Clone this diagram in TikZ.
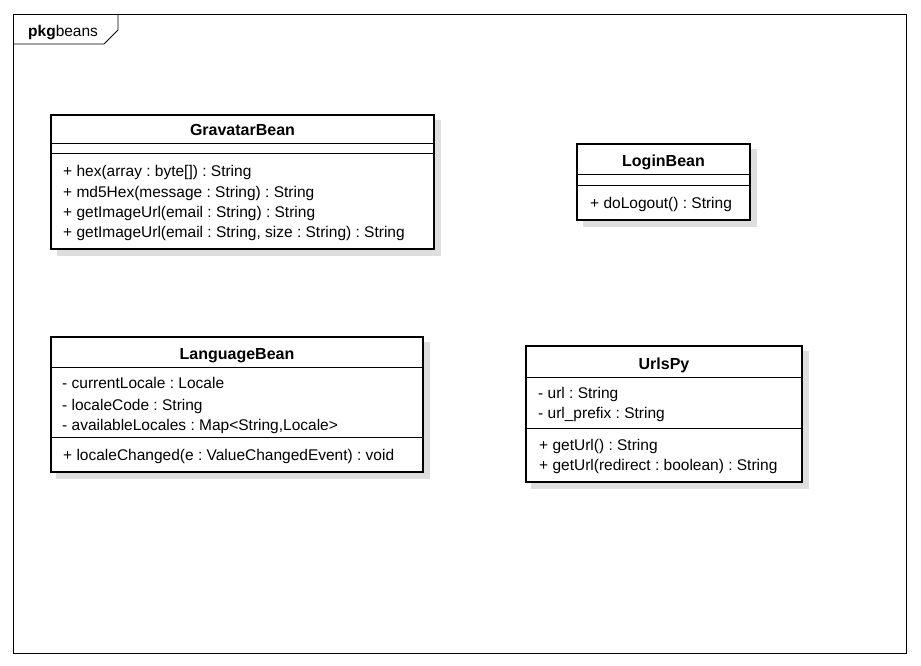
\documentclass[tikz,border=0pt]{standalone}
\usepackage{fontspec}
\setmainfont{Liberation Sans}
\frenchspacing
\begin{document}
\begin{tikzpicture}[x=1pt,y=-1pt,
  box/.style={draw=black,line width=2.6pt,fill=white},
  shade/.style={fill=black!13,draw=none},
  sep/.style={draw=black,line width=1pt},
  frameline/.style={draw=black,line width=0.8pt},
  txt/.style={anchor=base west,inner sep=0pt,font=\fontsize{15.5}{17}\selectfont},
  ttl/.style={anchor=base,inner sep=0pt,font=\fontsize{16}{18}\selectfont\bfseries}]
\useasboundingbox (0,0) rectangle (921,666);
\fill[white] (0,0) rectangle (921,666);
% package frame
\draw[frameline] (13,14) rectangle (906,653);
\draw[frameline] (13,44) -- (104,44) -- (118,30) -- (118,14);
\node[txt] (pkg) at (28,37) {\textbf{pkg}beans};

% GravatarBean
\fill[shade] (57,120) rectangle (441,256);
\draw[box] (51,115) rectangle (434,249);
\draw[sep] (51,144) -- (434,144);
\draw[sep] (51,154) -- (434,154);
\node[ttl] (gT) at (242.5,136) {GravatarBean};
\node[txt] (g1) at (63,176) {+ hex(array : byte[]) : String};
\node[txt] (g2) at (63,197) {+ md5Hex(message : String) : String};
\node[txt] (g3) at (63,217) {+ getImageUrl(email : String) : String};
\node[txt] (g4) at (63,237) {+ getImageUrl(email : String, size : String) : String};

% LoginBean
\fill[shade] (583,149) rectangle (757,227);
\draw[box] (577,144) rectangle (750,220);
\draw[sep] (577,174) -- (750,174);
\draw[sep] (577,185) -- (750,185);
\node[ttl] (lT) at (663.5,166) {LoginBean};
\node[txt] (l1) at (590,208) {+ doLogout() : String};

% LanguageBean
\fill[shade] (56,342) rectangle (430,479);
\draw[box] (51,337) rectangle (423,472);
\draw[sep] (51,367) -- (423,367);
\draw[sep] (51,437) -- (423,437);
\node[ttl] (laT) at (237,359) {LanguageBean};
\node[txt] (la1) at (62,388) {- currentLocale : Locale};
\node[txt] (la2) at (62,410) {- localeCode : String};
\node[txt] (la3) at (62,430) {- availableLocales : Map<String,Locale>};
\node[txt] (la4) at (63,460) {+ localeChanged(e : ValueChangedEvent) : void};

% UrlsPy
\fill[shade] (531,351) rectangle (809,489);
\draw[box] (526,346) rectangle (802,482);
\draw[sep] (526,377) -- (802,377);
\draw[sep] (526,428) -- (802,428);
\node[ttl] (uT) at (664,369) {UrlsPy};
\node[txt] (u1) at (538,398) {- url : String};
\node[txt] (u2) at (538,418) {- url\_prefix : String};
\node[txt] (u3) at (539,450) {+ getUrl() : String};
\node[txt] (u4) at (539,470) {+ getUrl(redirect : boolean) : String};
\end{tikzpicture}
\end{document}
